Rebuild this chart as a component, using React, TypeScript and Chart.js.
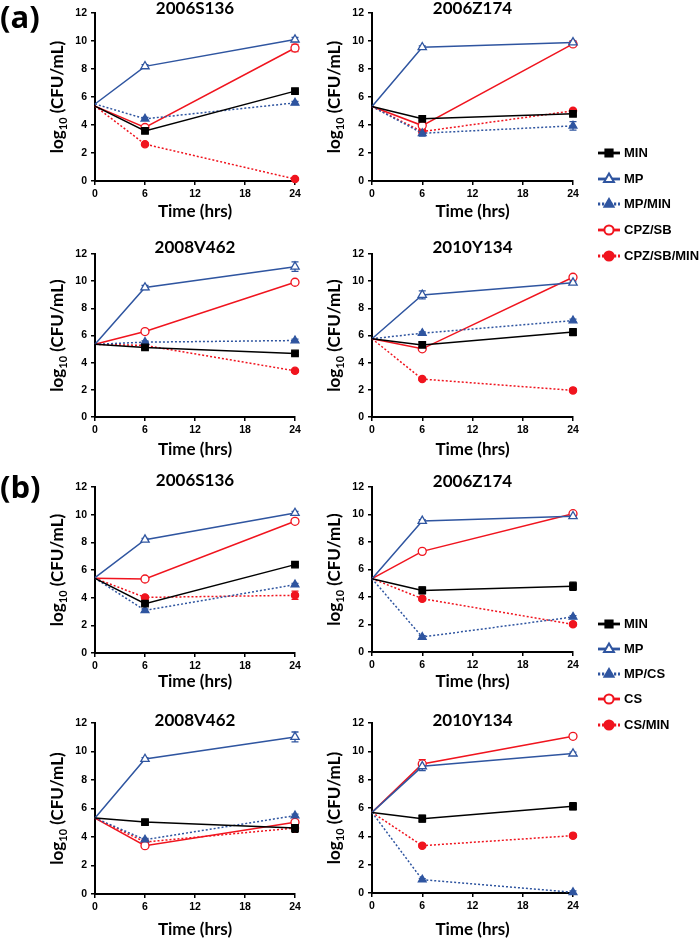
import React, { useEffect, useRef } from 'react';
import { Chart, registerables } from 'chart.js';
Chart.register(...registerables);

// ---------- data ----------
const TIMES = [0, 6, 24];
const X_TICKS = [0, 6, 12, 18, 24];
const Y_MIN = 0;
const Y_MAX = 12;
const Y_STEP = 2;

const LABELS_A = ['MIN', 'MP', 'MP/MIN', 'CPZ/SB', 'CPZ/SB/MIN'];
const LABELS_B = ['MIN', 'MP', 'MP/CS', 'CS', 'CS/MIN'];
const STRAINS = ['2006S136', '2006Z174', '2008V462', '2010Y134'];

// (a) rows: MIN, MP, MP/MIN, CPZ/SB, CPZ/SB/MIN ; columns: 0, 6, 24 h
const A_2006S136 = [[5.35, 3.58, 6.42], [5.5, 8.19, 10.1], [5.5, 4.44, 5.58], [5.35, 3.82, 9.5], [5.35, 2.63, 0.14]];
const A_2006S136_SD = [[0, 0.15, 0.12], [0, 0.12, 0.15], [0, 0.1, 0.1], [0, 0.1, 0.25], [0, 0.08, 0.08]];
const A_2006Z174 = [[5.32, 4.44, 4.8], [5.32, 9.55, 9.9], [5.32, 3.41, 3.94], [5.32, 3.96, 9.79], [5.32, 3.53, 5.01]];
const A_2006Z174_SD = [[0, 0.12, 0.12], [0, 0.1, 0.1], [0, 0.2, 0.3], [0, 0.2, 0.1], [0, 0.1, 0.1]];
const A_2008V462 = [[5.35, 5.12, 4.68], [5.35, 9.53, 11.07], [5.35, 5.51, 5.63], [5.35, 6.29, 9.92], [5.35, 5.27, 3.4]];
const A_2008V462_SD = [[0, 0.1, 0.1], [0, 0.15, 0.35], [0, 0.1, 0.1], [0, 0.08, 0.1], [0, 0.08, 0.1]];
const A_2010Y134 = [[5.76, 5.31, 6.25], [5.76, 8.99, 9.89], [5.76, 6.17, 7.1], [5.76, 5.02, 10.29], [5.76, 2.79, 1.96]];
const A_2010Y134_SD = [[0, 0.2, 0.25], [0, 0.3, 0.12], [0, 0.1, 0.1], [0, 0.1, 0.1], [0, 0.1, 0.08]];

// (b) rows: MIN, MP, MP/CS, CS, CS/MIN ; columns: 0, 6, 24 h
const B_2006S136 = [[5.4, 3.57, 6.39], [5.45, 8.19, 10.12], [5.4, 3.08, 4.94], [5.4, 5.35, 9.52], [5.4, 4.02, 4.17]];
const B_2006S136_SD = [[0, 0.1, 0.1], [0, 0.1, 0.12], [0, 0.1, 0.1], [0, 0.08, 0.15], [0, 0.1, 0.3]];
const B_2006Z174 = [[5.33, 4.48, 4.78], [5.33, 9.53, 9.87], [5.33, 1.09, 2.55], [5.33, 7.32, 10.06], [5.33, 3.88, 2.01]];
const B_2006Z174_SD = [[0, 0.25, 0.3], [0, 0.1, 0.1], [0, 0.1, 0.1], [0, 0.1, 0.1], [0, 0.15, 0.1]];
const B_2008V462 = [[5.33, 5.05, 4.63], [5.33, 9.47, 11.02], [5.33, 3.81, 5.5], [5.33, 3.39, 5.03], [5.33, 3.65, 4.63]];
const B_2008V462_SD = [[0, 0.12, 0.3], [0, 0.1, 0.35], [0, 0.1, 0.1], [0, 0.1, 0.1], [0, 0.1, 0.1]];
const B_2010Y134 = [[5.69, 5.25, 6.12], [5.69, 8.94, 9.84], [5.69, 0.94, 0.05], [5.69, 9.11, 11.06], [5.69, 3.34, 4.05]];
const B_2010Y134_SD = [[0, 0.25, 0.25], [0, 0.3, 0.1], [0, 0.08, 0.1], [0, 0.3, 0.1], [0, 0.1, 0.1]];

// ---------- styles / layout ----------
const BLUE = '#2F55A0';
const RED = '#F0141E';
const BLACK = '#000000';
const SERIES_STYLE = [
  { color: BLACK, dash: [] as number[], point: 'rect', filled: true, r: 4.6, legR: 4.5 },
  { color: BLUE, dash: [] as number[], point: 'triangle', filled: false, r: 4.8, legR: 5.5 },
  { color: BLUE, dash: [2, 2], point: 'triangle', filled: true, r: 4.5, legR: 5 },
  { color: RED, dash: [] as number[], point: 'circle', filled: false, r: 4, legR: 4.6 },
  { color: RED, dash: [2, 2], point: 'circle', filled: true, r: 3.6, legR: 4.6 },
];

const TITLE_FONT = 'bold 17px Lato, "Open Sans", sans-serif';
const AXIS_TITLE_FONT = 'bold 17px Lato, "Open Sans", sans-serif';
const SUB_FONT = 'bold 11px Lato, "Open Sans", sans-serif';
const TICK_FONT_FAMILY = '"Liberation Sans", Arial, sans-serif';
const LEGEND_FONT = 'bold 13px "Liberation Sans", Arial, sans-serif';

type PanelDef = {
  title: string; values: number[][]; sd: number[][]; labels: string[];
  L: number; R: number; T: number; B: number; titleY: number; xTitleY: number;
};

const PANELS: PanelDef[] = [
  { title: STRAINS[0], values: A_2006S136, sd: A_2006S136_SD, labels: LABELS_A, L: 95, R: 295, T: 13, B: 181, titleY: 9, xTitleY: 212 },
  { title: STRAINS[1], values: A_2006Z174, sd: A_2006Z174_SD, labels: LABELS_A, L: 372, R: 573, T: 13, B: 181, titleY: 9, xTitleY: 212 },
  { title: STRAINS[2], values: A_2008V462, sd: A_2008V462_SD, labels: LABELS_A, L: 95, R: 295, T: 254, B: 417, titleY: 248, xTitleY: 450 },
  { title: STRAINS[3], values: A_2010Y134, sd: A_2010Y134_SD, labels: LABELS_A, L: 372, R: 573, T: 254, B: 417, titleY: 248, xTitleY: 450 },
  { title: STRAINS[0], values: B_2006S136, sd: B_2006S136_SD, labels: LABELS_B, L: 95, R: 295, T: 487, B: 653, titleY: 481, xTitleY: 682 },
  { title: STRAINS[1], values: B_2006Z174, sd: B_2006Z174_SD, labels: LABELS_B, L: 372, R: 573, T: 487, B: 652, titleY: 482, xTitleY: 682 },
  { title: STRAINS[2], values: B_2008V462, sd: B_2008V462_SD, labels: LABELS_B, L: 95, R: 295, T: 723, B: 894, titleY: 721, xTitleY: 930 },
  { title: STRAINS[3], values: B_2010Y134, sd: B_2010Y134_SD, labels: LABELS_B, L: 372, R: 573, T: 723, B: 893, titleY: 721, xTitleY: 930 },
];

const PAD_LEFT = 95;
const PAD_TOP = 30;
const PAD_RIGHT = 20;
const PAD_BOTTOM = 48;

// ---------- plugins ----------
const errorBarPlugin = {
  id: 'errorBars',
  beforeDatasetsDraw(chart: any) {
    const { ctx } = chart;
    const xs = chart.scales.x, ys = chart.scales.y;
    chart.data.datasets.forEach((ds: any) => {
      const sd = ds.sd as number[];
      if (!sd) return;
      ctx.save();
      ctx.strokeStyle = ds.borderColor;
      ctx.lineWidth = 1.3;
      ctx.setLineDash([]);
      ds.data.forEach((p: any, i: number) => {
        const e = sd[i];
        if (!e) return;
        const px = xs.getPixelForValue(p.x);
        const y1 = ys.getPixelForValue(p.y + e);
        const y2 = ys.getPixelForValue(p.y - e);
        ctx.beginPath();
        ctx.moveTo(px, y1); ctx.lineTo(px, y2);
        ctx.moveTo(px - 3.5, y1); ctx.lineTo(px + 3.5, y1);
        ctx.moveTo(px - 3.5, y2); ctx.lineTo(px + 3.5, y2);
        ctx.stroke();
      });
      ctx.restore();
    });
  },
};

const panelTextPlugin = {
  id: 'panelText',
  afterDraw(chart: any, _args: any, opts: any) {
    const { ctx, chartArea } = chart;
    const cx = (chartArea.left + chartArea.right) / 2;
    const cy = (chartArea.top + chartArea.bottom) / 2;
    ctx.save();
    ctx.fillStyle = '#000';
    ctx.textBaseline = 'middle';
    ctx.textAlign = 'center';
    ctx.font = TITLE_FONT;
    ctx.fillText(opts.title, cx, opts.titleY);
    ctx.font = AXIS_TITLE_FONT;
    ctx.fillText('Time (hrs)', cx, opts.xTitleY);
    // y title with subscript
    ctx.translate(chartArea.left - 37, cy);
    ctx.rotate(-Math.PI / 2);
    ctx.textAlign = 'left';
    ctx.font = AXIS_TITLE_FONT;
    const w1 = ctx.measureText('log').width;
    const w3 = ctx.measureText(' (CFU/mL)').width;
    ctx.font = SUB_FONT;
    const w2 = ctx.measureText('10').width;
    let x = -(w1 + w2 + w3) / 2;
    ctx.font = AXIS_TITLE_FONT;
    ctx.fillText('log', x, 0);
    x += w1;
    ctx.font = SUB_FONT;
    ctx.fillText('10', x, 5);
    x += w2;
    ctx.font = AXIS_TITLE_FONT;
    ctx.fillText(' (CFU/mL)', x, 0);
    ctx.restore();
  },
};

// ---------- components ----------
function Panel({ p }: { p: PanelDef }) {
  const ref = useRef<HTMLCanvasElement>(null);
  const left = p.L - PAD_LEFT;
  const top = p.T - PAD_TOP;
  const w = PAD_LEFT + (p.R - p.L) + PAD_RIGHT;
  const h = PAD_TOP + (p.B - p.T) + PAD_BOTTOM;

  useEffect(() => {
    const datasets = p.values.map((vals, si) => {
      const st = SERIES_STYLE[si];
      return {
        label: p.labels[si],
        data: TIMES.map((t, i) => ({ x: t, y: vals[i] })),
        sd: p.sd[si],
        borderColor: st.color,
        borderWidth: 1.5,
        borderDash: st.dash,
        pointStyle: st.point,
        pointBackgroundColor: st.filled ? st.color : '#ffffff',
        pointBorderColor: st.color,
        pointBorderWidth: 1.3,
        pointRadius: (c: any) => (c.dataIndex === 0 ? 0 : st.r),
        tension: 0,
        fill: false,
        clip: false,
      };
    });
    const chart = new Chart(ref.current!, {
      type: 'line',
      data: { datasets } as any,
      options: {
        responsive: false,
        animation: false,
        devicePixelRatio: 1,
        events: [],
        layout: { padding: { left: 0, top: PAD_TOP, right: PAD_RIGHT, bottom: 0 } },
        plugins: {
          legend: { display: false },
          tooltip: { enabled: false },
          panelText: { title: p.title, titleY: p.titleY - top, xTitleY: p.xTitleY - top },
        } as any,
        scales: {
          x: {
            type: 'linear',
            min: TIMES[0],
            max: TIMES[TIMES.length - 1],
            afterBuildTicks: (s: any) => { s.ticks = X_TICKS.map((v) => ({ value: v })); },
            afterFit: (s: any) => { s.height = PAD_BOTTOM; },
            grid: { display: true, drawOnChartArea: false, drawTicks: true, tickLength: 4, color: '#000', lineWidth: 1.5 },
            border: { display: true, color: '#000', width: 2 },
            ticks: { color: '#000', padding: 3, font: { family: TICK_FONT_FAMILY, size: 10.5, weight: 'bold' }, maxRotation: 0 },
          },
          y: {
            type: 'linear',
            min: Y_MIN,
            max: Y_MAX,
            afterFit: (s: any) => { s.width = PAD_LEFT; },
            grid: { display: true, drawOnChartArea: false, drawTicks: true, tickLength: 4, color: '#000', lineWidth: 1.5 },
            border: { display: true, color: '#000', width: 2 },
            ticks: { stepSize: Y_STEP, color: '#000', padding: 4, font: { family: TICK_FONT_FAMILY, size: 10.5, weight: 'bold' } },
          },
        },
      } as any,
      plugins: [errorBarPlugin, panelTextPlugin],
    });
    return () => chart.destroy();
  }, []);

  return <canvas ref={ref} width={w} height={h} style={{ position: 'absolute', left, top, width: w, height: h }} />;
}

function Legend({ labels, x, y, lineStart, lineEnd, textX, rowYs }: { labels: string[]; x: number; y: number; lineStart: number; lineEnd: number; textX: number; rowYs: number[] }) {
  const ref = useRef<HTMLCanvasElement>(null);
  const w = 700 - x;
  const h = rowYs[rowYs.length - 1] - rowYs[0] + 30;
  useEffect(() => {
    const ctx = ref.current!.getContext('2d')!;
    ctx.clearRect(0, 0, w, h);
    labels.forEach((lab, i) => {
      const st = SERIES_STYLE[i];
      const cy = rowYs[i] - y;
      const x0 = lineStart - x, x1 = lineEnd - x, mx = (x0 + x1) / 2;
      ctx.save();
      ctx.strokeStyle = st.color;
      ctx.lineWidth = 2.8;
      ctx.setLineDash(st.dash.length ? [2.2, 1.8] : []);
      ctx.beginPath(); ctx.moveTo(x0, cy); ctx.lineTo(x1, cy); ctx.stroke();
      ctx.setLineDash([]);
      ctx.fillStyle = st.filled ? st.color : '#fff';
      ctx.lineWidth = 2;
      const r = st.legR;
      ctx.beginPath();
      if (st.point === 'rect') {
        const s = r * 0.8;
        ctx.rect(mx - s, cy - s, 2 * s, 2 * s);
      } else if (st.point === 'triangle') {
        ctx.moveTo(mx, cy - r);
        ctx.lineTo(mx + r * 0.9, cy + r * 0.55);
        ctx.lineTo(mx - r * 0.9, cy + r * 0.55);
        ctx.closePath();
      } else {
        ctx.arc(mx, cy, r, 0, Math.PI * 2);
      }
      ctx.fill();
      ctx.stroke();
      ctx.restore();
      ctx.fillStyle = '#000';
      ctx.font = LEGEND_FONT;
      ctx.textBaseline = 'middle';
      ctx.textAlign = 'left';
      ctx.fillText(lab, textX - x, cy);
    });
  }, []);
  return <canvas ref={ref} width={w} height={h} style={{ position: 'absolute', left: x, top: y, width: w, height: h }} />;
}

export default function App() {
  return (
    <div style={{ position: 'absolute', left: 0, top: 0, width: 700, height: 940, overflow: 'hidden', background: '#fff' }}>
      {PANELS.map((p, i) => <Panel key={i} p={p} />)}
      <Legend labels={LABELS_A} x={590} y={138} lineStart={598} lineEnd={620} textX={624} rowYs={[153, 179, 204, 230, 256]} />
      <Legend labels={LABELS_B} x={590} y={609} lineStart={598} lineEnd={620} textX={624} rowYs={[624, 649, 674, 699, 725]} />
      <div style={{ position: 'absolute', left: 0, top: -4, font: 'bold 31px "Open Sans", Arial, sans-serif', color: '#000', lineHeight: '40px' }}>(a)</div>
      <div style={{ position: 'absolute', left: 0, top: 466, font: 'bold 31px "Open Sans", Arial, sans-serif', color: '#000', lineHeight: '40px' }}>(b)</div>
    </div>
  );
}
